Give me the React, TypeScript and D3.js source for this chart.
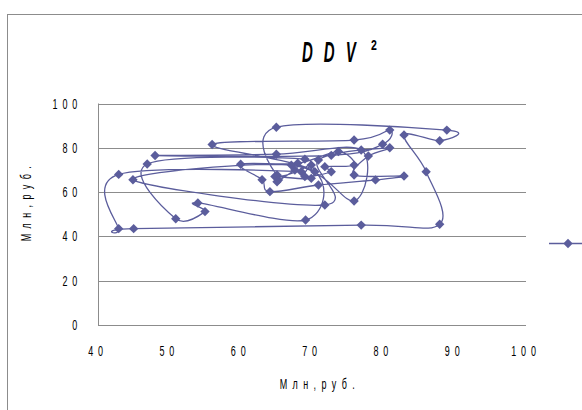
import React from "react";
import * as d3 from "d3";

// ---- data ----
const xValues: number[] = [
  68.5, 42.9, 42.9, 45.0, 76.9, 87.9, 86.0, 82.9, 87.9, 88.9,
  65.0, 65.1, 69.0, 46.9, 50.9, 55.0, 54.0, 69.1, 70.4, 56.0,
  75.9, 80.9, 79.9, 72.7, 48.0, 65.0, 76.9, 75.9, 67.1, 44.9,
  71.8, 70.9, 80.9, 77.9, 75.9, 82.9, 78.9, 70.9, 64.1, 63.0,
  60.0, 68.0, 73.7, 75.9, 71.8, 72.7, 69.0, 69.9, 69.9, 64.8,
  65.3, 65.1, 67.6,
];
const yValues: number[] = [
  69.2, 68.0, 43.5, 43.5, 45.1, 45.5, 69.2, 85.8, 83.2, 88.0,
  89.3, 67.7, 74.9, 72.7, 48.0, 51.2, 55.1, 47.4, 69.2, 81.5,
  83.5, 88.0, 81.6, 76.6, 76.5, 77.1, 79.0, 56.0, 72.2, 65.6,
  54.2, 74.5, 80.0, 76.3, 67.7, 67.3, 65.5, 63.2, 60.2, 65.6,
  72.6, 73.0, 78.3, 72.2, 71.5, 69.2, 67.0, 72.2, 66.2, 67.0,
  65.5, 64.7, 70.0,
];
const xTicks: number[] = [40, 50, 60, 70, 80, 90, 100];
const yTicks: number[] = [0, 20, 40, 60, 80, 100];
const titleText = "DDV";
const titleSup = "2";
const axisTitle = "Млн,руб.";

const W = 582;
const H = 410;
const COLOR = "#5b5d9c";
const GRID = "#8c8c8c";
const FONT = "'Liberation Sans', Arial, sans-serif";

type TP = {
  x: number;
  y: number;
  sx?: number;
  size?: number;
  anchor?: "start" | "middle" | "end";
  ls?: number;
  weight?: string;
  italic?: boolean;
  rotate?: number;
  children: React.ReactNode;
};

function STxt({ x, y, sx = 0.6, size = 16, anchor = "start", ls = 0, weight = "normal", italic = false, rotate = 0, children }: TP) {
  return (
    <text
      transform={`translate(${x},${y}) rotate(${rotate}) scale(${sx},1)`}
      textAnchor={anchor}
      fontFamily={FONT}
      fontSize={size}
      fontWeight={weight}
      fontStyle={italic ? "italic" : "normal"}
      letterSpacing={ls}
      fill="#000"
    >
      {children}
    </text>
  );
}

function Diamond({ cx, cy, r = 4.7 }: { cx: number; cy: number; r?: number }) {
  return (
    <path
      d={`M${cx},${cy - r}L${cx + r},${cy}L${cx},${cy + r}L${cx - r},${cy}Z`}
      fill={COLOR}
    />
  );
}

export default function App() {
  const x = d3.scaleLinear().domain([40, 100]).range([98, 526]);
  const y = d3.scaleLinear().domain([0, 100]).range([325, 103.5]);

  const pts: [number, number][] = xValues.map((v, i) => [x(v), y(yValues[i])]);
  const line = d3
    .line<[number, number]>()
    .x((d) => d[0])
    .y((d) => d[1])
    .curve(d3.curveCatmullRom.alpha(0));
  const pathD = line(pts) || "";

  return (
    <svg
      width={W}
      height={H}
      viewBox={`0 0 ${W} ${H}`}
      style={{ position: "absolute", left: 0, top: 0, background: "#fff" }}
    >
      <rect x={0} y={0} width={W} height={H} fill="#fff" />
      {/* outer chart frame */}
      <rect x={7.5} y={14.5} width={W + 20} height={H + 20} fill="none" stroke={GRID} strokeWidth={1} />

      {/* title */}
      <STxt x={302} y={62} size={30} sx={0.5} ls={22} weight="bold" italic>
        {titleText}
      </STxt>
      <STxt x={371} y={49.5} size={14} sx={0.75} weight="bold">
        {titleSup}
      </STxt>

      {/* gridlines */}
      {yTicks.filter((t) => t > 0).map((t) => (
        <line key={t} x1={x(40)} x2={x(100)} y1={Math.round(y(t)) + 0.5} y2={Math.round(y(t)) + 0.5} stroke={GRID} strokeWidth={1} />
      ))}
      {/* axes */}
      <line x1={x(40) + 0.5} x2={x(40) + 0.5} y1={y(100)} y2={y(0)} stroke={GRID} strokeWidth={1} />
      <line x1={x(40)} x2={x(100)} y1={Math.round(y(0)) + 0.5} y2={Math.round(y(0)) + 0.5} stroke={GRID} strokeWidth={1} />

      {/* y tick labels */}
      {yTicks.map((t) => (
        <STxt key={t} x={82} y={y(t) + 5} anchor="end" size={15} sx={0.6} ls={8}>
          {String(t)}
        </STxt>
      ))}
      {/* x tick labels */}
      {xTicks.map((t) => (
        <STxt key={t} x={x(t)} y={356} anchor="middle" size={15} sx={0.6} ls={8}>
          {String(t)}
        </STxt>
      ))}

      {/* axis titles */}
      <STxt x={320} y={389} anchor="middle" size={15} sx={0.6} ls={9}>
        {axisTitle}
      </STxt>
      <STxt x={31} y={201} anchor="middle" size={15} sx={0.6} ls={9} rotate={-90}>
        {axisTitle}
      </STxt>

      {/* series */}
      <path d={pathD} fill="none" stroke={COLOR} strokeWidth={1.3} />
      {pts.map((p, i) => (
        <Diamond key={i} cx={p[0]} cy={p[1]} />
      ))}

      {/* legend */}
      <line x1={549} x2={582} y1={243.5} y2={243.5} stroke={COLOR} strokeWidth={1.3} />
      <Diamond cx={568} cy={243.5} />
    </svg>
  );
}
